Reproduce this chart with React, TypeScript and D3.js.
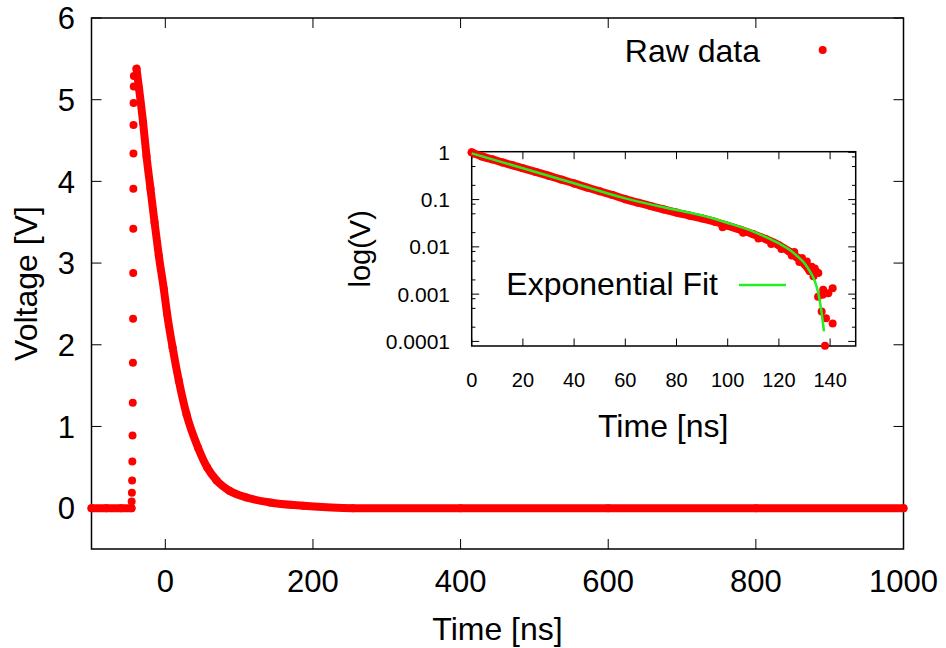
import React from "react";
import * as d3 from "d3";

// ---------- main plot data ----------
const mainXTicks = [0, 200, 400, 600, 800, 1000];
const mainYTicks = [0, 1, 2, 3, 4, 5, 6];

const baselineTimes = [-100, -80, -60, -45.8];
const baselineVolts = [0, 0, 0, 0];

const riseTimes = [-45.6, -45.3, -45.0, -44.7, -44.4, -44.1, -43.9, -43.7, -43.5, -43.4, -43.3, -43.2, -43.1, -43.0, -42.8, -42.6];
const riseVolts = [0.08, 0.19, 0.34, 0.57, 0.89, 1.29, 1.78, 2.32, 2.88, 3.42, 3.91, 4.34, 4.69, 4.96, 5.16, 5.29];

const decayTimes = [-39.0, -35.5, -30.1, -25.5, -20.1, -14.6, -8.8, -2.0, 2.4, 9.8, 18.3, 28.7, 44.4, 56.6, 69.4, 87.4, 110, 141.6, 186.7, 254, 400, 600, 800, 1000];
const decayVolts = [5.38, 5.13, 4.72, 4.31, 3.91, 3.50, 3.09, 2.68, 2.38, 1.97, 1.56, 1.15, 0.74, 0.50, 0.34, 0.21, 0.13, 0.07, 0.03, 0.0, 0.0, 0.0, 0.0, 0.0];

// ---------- inset data ----------
const insetXTicks = [0, 20, 40, 60, 80, 100, 120, 140];
const insetYTicks = [1, 0.1, 0.01, 0.001, 0.0001];
const insetYTickLabels = ["1", "0.1", "0.01", "0.001", "0.0001"];
const insetMinorMantissas = [2, 5, 8];

const bandTimes = [0, 4, 8, 12, 16, 20, 25, 30, 35, 40, 45, 50, 55, 60, 65, 70, 75, 80, 85, 90, 95, 100, 105, 110, 115, 120, 124, 127, 130, 132];
const bandValues = [1.0, 0.82, 0.71, 0.61, 0.53, 0.46, 0.385, 0.32, 0.265, 0.22, 0.18, 0.15, 0.125, 0.102, 0.086, 0.073, 0.062, 0.053, 0.046, 0.040, 0.034, 0.028, 0.023, 0.0185, 0.0145, 0.0108, 0.0080, 0.0060, 0.0043, 0.0031];

const scatterTimes = [98, 106, 112, 117, 121, 125, 128, 126, 129, 130.9, 132.8, 133.5, 134, 134.6, 135.4, 137.3, 139.3, 141, 137.1, 135.3, 136.7, 138.4, 141, 138];
const scatterValues = [0.026, 0.020, 0.015, 0.0115, 0.0090, 0.0066, 0.0048, 0.0078, 0.0058, 0.0049, 0.0038, 0.0024, 0.0035, 0.0030, 0.0028, 0.00124, 0.00105, 0.00134, 0.00097, 0.00088, 0.00043, 0.00031, 0.00024, 0.000081];

const fitTimes = [0, 20, 40, 60, 80, 90, 100, 110, 115, 120, 124, 127, 130, 132, 134, 135.4, 136.7, 137.6];
const fitValues = [0.95, 0.46, 0.221, 0.106, 0.060, 0.046, 0.032, 0.021, 0.016, 0.0118, 0.0088, 0.0065, 0.0045, 0.0031, 0.0019, 0.00105, 0.0004, 0.000163];

const RED = "#ff0000";
const GREEN = "#22ee22";
const FONT = "'Liberation Sans', Arial, Helvetica, sans-serif";

export default function App() {
  const W = 946, H = 648;
  // main frame
  const mL = 91.5, mR = 903.5, mT = 18, mB = 549;
  const x = d3.scaleLinear().domain([-100, 1000]).range([mL, mR]);
  const y = d3.scaleLinear().domain([-0.5, 6]).range([mB, mT]);

  // inset frame
  const iL = 471.7, iR = 855.7, iT = 151.7, iB = 346;
  const xi = d3.scaleLinear().domain([0, 150]).range([iL, iR]);
  const yi = d3.scaleLog().domain([8e-5, 1.03]).range([iB, iT]);

  const mainLine = d3.line<[number, number]>().x(d => x(d[0])).y(d => y(d[1])).curve(d3.curveMonotoneX);
  const insetLine = d3.line<[number, number]>().x(d => xi(d[0])).y(d => yi(d[1])).curve(d3.curveMonotoneX);

  const baseline = baselineTimes.map((t, i) => [t, baselineVolts[i]] as [number, number]);
  const decay = decayTimes.map((t, i) => [t, decayVolts[i]] as [number, number]);
  const rise = riseTimes.map((t, i) => [t, riseVolts[i]] as [number, number]);
  const band = bandTimes.map((t, i) => [t, bandValues[i]] as [number, number]);
  const scatter = scatterTimes.map((t, i) => [t, scatterValues[i]] as [number, number]);
  const fit = fitTimes.map((t, i) => [t, fitValues[i]] as [number, number]);

  const minorVals: number[] = [];
  insetYTicks.forEach(d => {
    insetMinorMantissas.forEach(m => {
      const v = d * m;
      if (v < 1.03 && v > 8e-5) minorVals.push(v);
    });
  });

  const R = 4;
  const SW = 8;
  const tickM = 10;
  const tickI = 7.5;
  const tickIm = 3.75;

  return (
    <svg width={W} height={H} style={{ position: "absolute", left: 0, top: 0, background: "#fff" }} fontFamily={FONT}>
      <rect x={0} y={0} width={W} height={H} fill="#fff" />
      {/* main frame */}
      <rect x={mL} y={mT} width={mR - mL} height={mB - mT} fill="none" stroke="#000" strokeWidth={1.5} />
      {mainXTicks.map(t => (
        <g key={"mx" + t}>
          <line x1={x(t)} x2={x(t)} y1={mB} y2={mB - tickM} stroke="#000" strokeWidth={1} />
          <line x1={x(t)} x2={x(t)} y1={mT} y2={mT + tickM} stroke="#000" strokeWidth={1} />
          <text x={x(t)} y={592} fontSize={31} textAnchor="middle" fill="#000">{t}</text>
        </g>
      ))}
      {mainYTicks.map(v => (
        <g key={"my" + v}>
          <line x1={mL} x2={mL + tickM} y1={y(v)} y2={y(v)} stroke="#000" strokeWidth={1} />
          <line x1={mR} x2={mR - tickM} y1={y(v)} y2={y(v)} stroke="#000" strokeWidth={1} />
          <text x={75} y={y(v)} dy="0.36em" fontSize={31} textAnchor="end" fill="#000">{v}</text>
        </g>
      ))}
      <text x={(mL + mR) / 2} y={640} fontSize={32} textAnchor="middle" fill="#000">Time [ns]</text>
      <text transform={`translate(37,${(mT + mB) / 2}) rotate(-90)`} fontSize={32} textAnchor="middle" fill="#000">Voltage [V]</text>

      {/* main data */}
      <path d={mainLine(baseline) || ""} fill="none" stroke={RED} strokeWidth={SW} strokeLinecap="round" strokeLinejoin="round" />
      <path d={mainLine(decay) || ""} fill="none" stroke={RED} strokeWidth={SW} strokeLinecap="round" strokeLinejoin="round" />
      {baseline.map((d, i) => <circle key={"b" + i} cx={x(d[0])} cy={y(d[1])} r={R} fill={RED} />)}
      {rise.map((d, i) => <circle key={"r" + i} cx={x(d[0])} cy={y(d[1])} r={R} fill={RED} />)}
      {decay.map((d, i) => <circle key={"d" + i} cx={x(d[0])} cy={y(d[1])} r={R} fill={RED} />)}

      {/* legend main */}
      <text x={760} y={61.7} fontSize={32} textAnchor="end" fill="#000">Raw data</text>
      <circle cx={822.7} cy={50} r={R} fill={RED} />

      {/* inset */}
      <rect x={iL} y={iT} width={iR - iL} height={iB - iT} fill="#fff" stroke="#000" strokeWidth={1.5} />
      {insetXTicks.map(t => (
        <g key={"ix" + t}>
          <line x1={xi(t)} x2={xi(t)} y1={iB} y2={iB - tickI} stroke="#000" strokeWidth={1} />
          <line x1={xi(t)} x2={xi(t)} y1={iT} y2={iT + tickI} stroke="#000" strokeWidth={1} />
          <text x={xi(t)} y={387} fontSize={20} textAnchor="middle" fill="#000">{t}</text>
        </g>
      ))}
      {insetYTicks.map((v, i) => (
        <g key={"iy" + v}>
          <line x1={iL} x2={iL + tickI} y1={yi(v)} y2={yi(v)} stroke="#000" strokeWidth={1} />
          <line x1={iR} x2={iR - tickI} y1={yi(v)} y2={yi(v)} stroke="#000" strokeWidth={1} />
          <text x={450} y={yi(v)} dy="0.36em" fontSize={21} textAnchor="end" fill="#000">{insetYTickLabels[i]}</text>
        </g>
      ))}
      {minorVals.map((v, i) => (
        <g key={"im" + i}>
          <line x1={iL} x2={iL + tickIm} y1={yi(v)} y2={yi(v)} stroke="#000" strokeWidth={1} />
          <line x1={iR} x2={iR - tickIm} y1={yi(v)} y2={yi(v)} stroke="#000" strokeWidth={1} />
        </g>
      ))}
      <text x={(iL + iR) / 2 - 0.5} y={437} fontSize={32} textAnchor="middle" fill="#000">Time [ns]</text>
      <text transform={`translate(370,${(iT + iB) / 2}) rotate(-90)`} fontSize={29} textAnchor="middle" fill="#000">log(V)</text>

      <path d={insetLine(band) || ""} fill="none" stroke={RED} strokeWidth={SW} strokeLinecap="round" strokeLinejoin="round" />
      {band.map((d, i) => <circle key={"ib" + i} cx={xi(d[0])} cy={yi(d[1])} r={R} fill={RED} />)}
      {scatter.map((d, i) => <circle key={"is" + i} cx={xi(d[0])} cy={yi(d[1])} r={R} fill={RED} />)}
      <path d={insetLine(fit) || ""} fill="none" stroke={GREEN} strokeWidth={2.5} />

      {/* inset legend */}
      <text x={718} y={295} fontSize={32} textAnchor="end" fill="#000">Exponential Fit</text>
      <line x1={739} x2={786} y1={285} y2={285} stroke={GREEN} strokeWidth={2.5} />
    </svg>
  );
}
